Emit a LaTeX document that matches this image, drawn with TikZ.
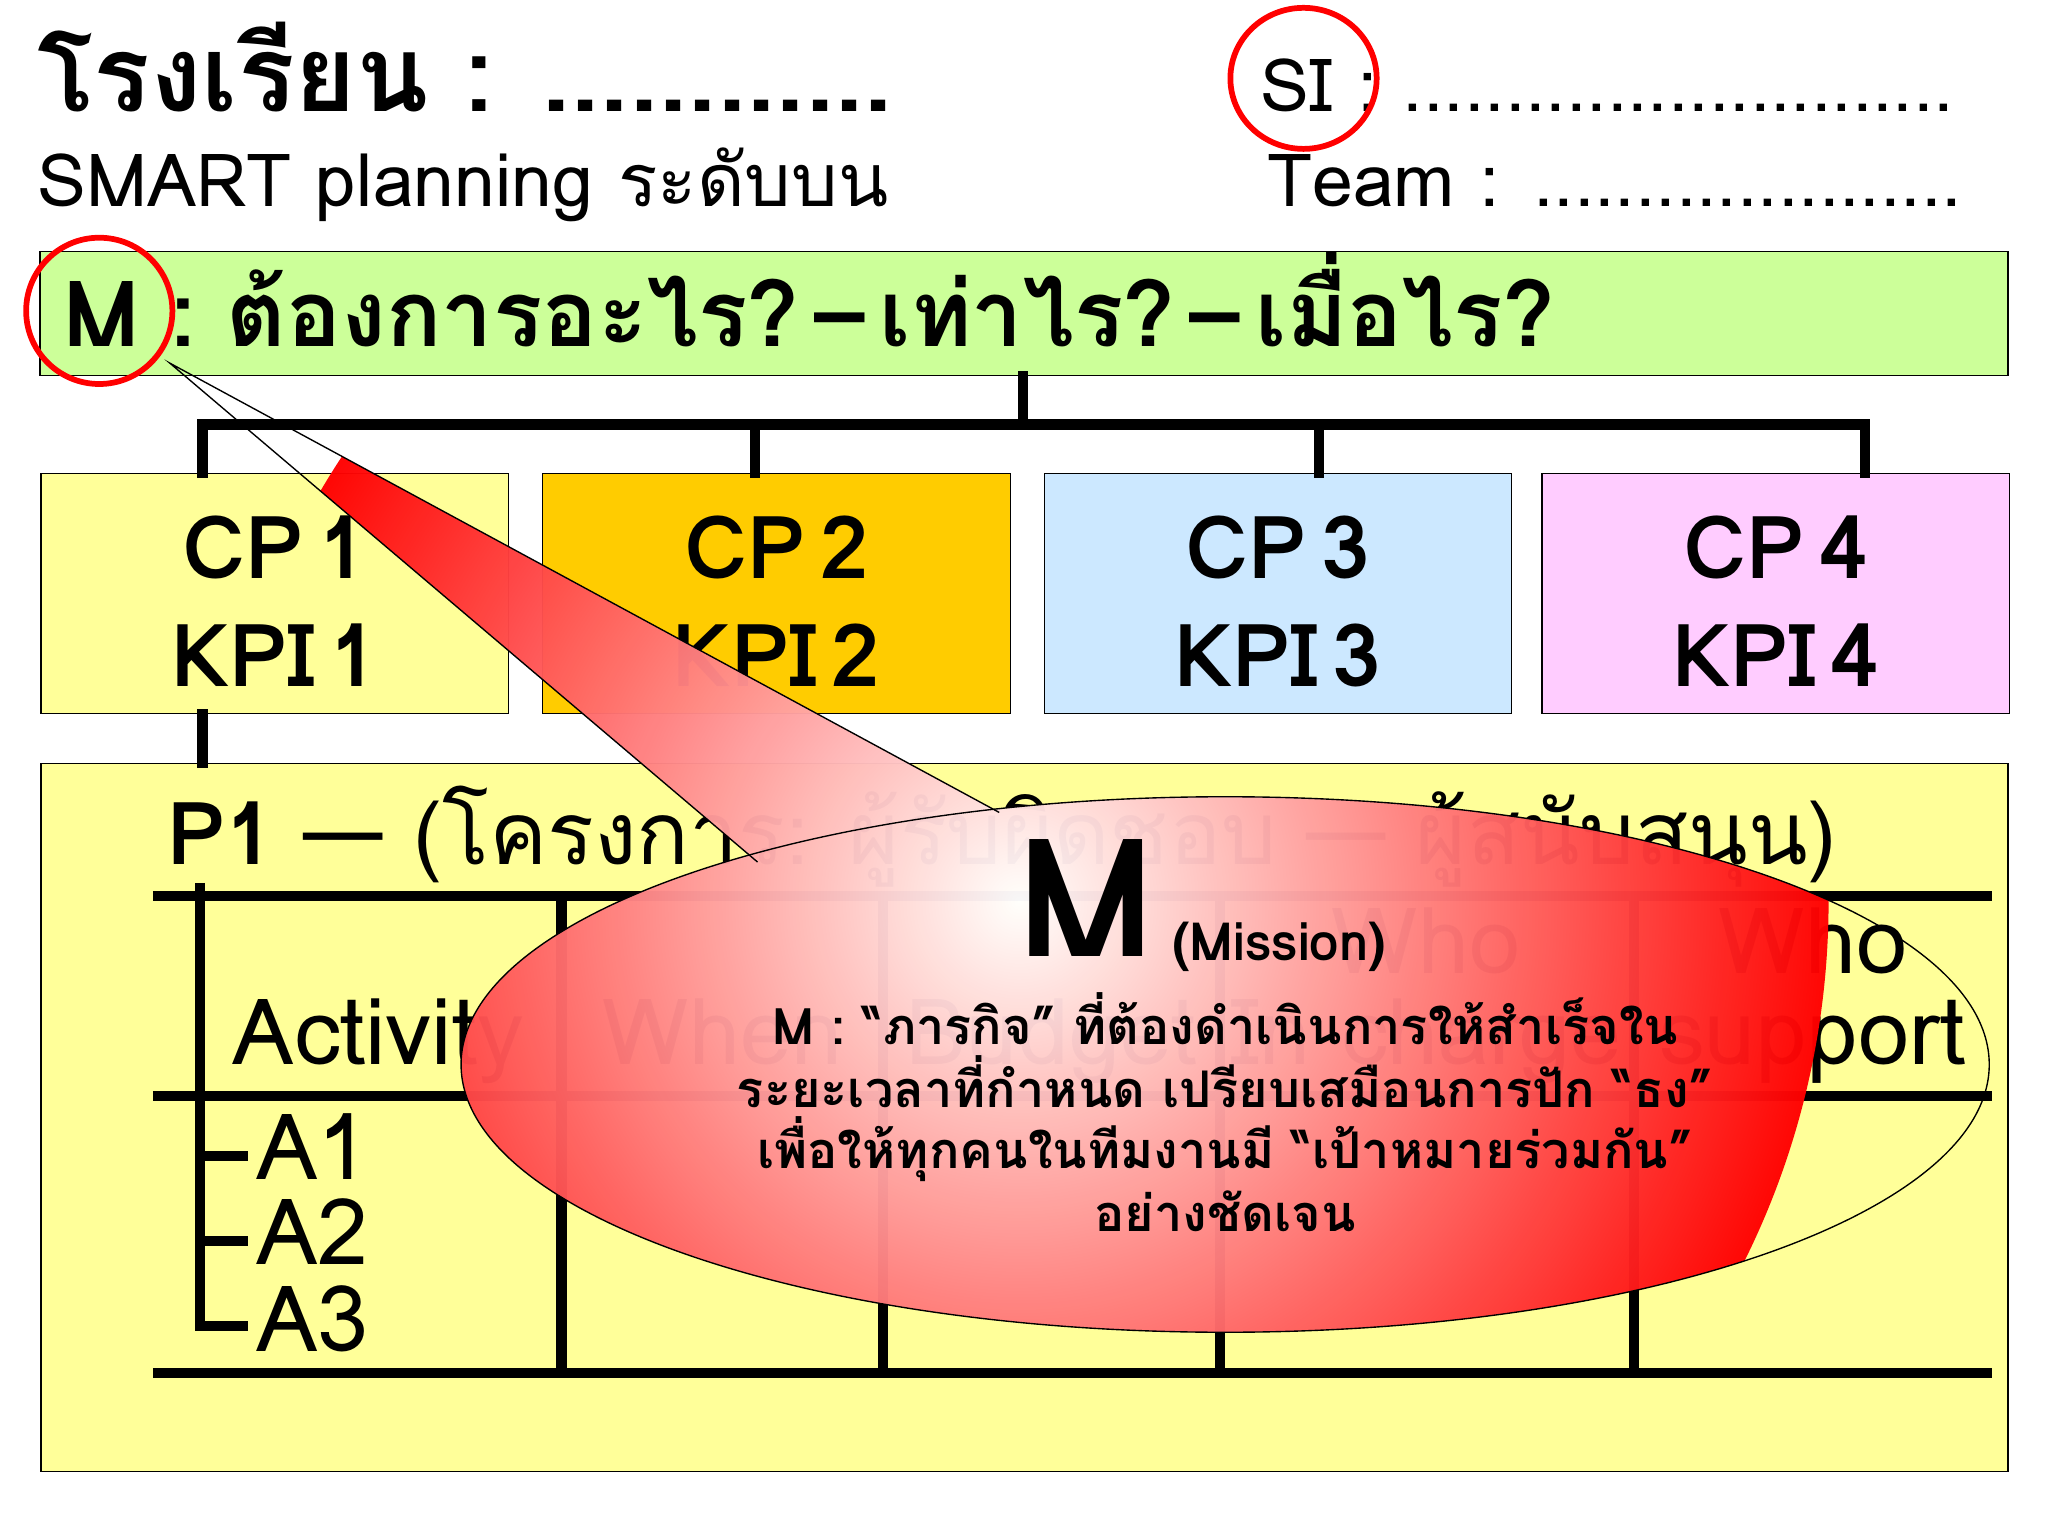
\documentclass[tikz,border=0pt]{standalone}
\usepackage{fontspec}
\setmainfont[Script=Thai]{Loma}
\usetikzlibrary{shadings}
\definecolor{lgreen}{HTML}{CCFF99}
\definecolor{lyel}{HTML}{FFFF99}
\definecolor{lorange}{HTML}{FFCC00}
\definecolor{lblue}{HTML}{CCE8FF}
\definecolor{lpink}{HTML}{FFCCFF}
\tikzset{
  box/.style={draw=black, line width=0.6pt},
  thick line/.style={line width=4.5pt, line cap=rect},
  tl/.style={anchor=base west, inner sep=0pt},
  cpt/.style={font=\fontsize{38}{40}\bfseries\selectfont, inner sep=0pt},
  hdr/.style={font=\fontsize{40}{42}\selectfont, inner sep=0pt, anchor=base},
  body/.style={font=\fontsize{22}{24}\bfseries\selectfont, inner sep=0pt, anchor=base},
}
\begin{document}
\begin{tikzpicture}[x=0.02cm,y=-0.02cm]
\useasboundingbox[fill=white] (0,0) rectangle (1568,1176);
% header texts
\node[tl, font=\fontsize{46}{48}\bfseries\selectfont] (title) at (28,85) {โรงเรียน : ............};
\node[tl, font=\fontsize{32}{34}\selectfont] (smart) at (28,158) {SMART planning ระดับบน};
\node[tl, font=\fontsize{32}{34}\selectfont] (si) at (965,85) {SI : ...........................};
\node[tl, font=\fontsize{32}{34}\selectfont] (team) at (970,158) {Team : .....................};
\draw[red, line width=2.5pt] (998,60) ellipse (56 and 54);
% mission bar
\node[box, fill=lgreen, minimum width=30.14cm, minimum height=1.9cm, inner sep=0pt, anchor=north west] (bar) at (30,192) {};
\node[tl, font=\fontsize{40}{42}\bfseries\selectfont] (bartext) at (48,265) {M : ต้องการอะไร?\,–\,เท่าไร?\,–\,เมื่อไร?};
\draw[red, line width=2.5pt] (76,238) circle (56);
% CP boxes
\foreach \n/\x/\c in {1/31/lyel,2/415/lorange,3/799/lblue,4/1180/lpink}{
  \node[box, fill=\c, minimum width=7.16cm, minimum height=3.68cm, anchor=north west, inner sep=0pt] (cp\n) at (\x,362) {};
  \node[cpt] (cpl\n) at ([yshift=-1.15cm]cp\n.north) {CP\,\n};
  \node[cpt] (kpi\n) at ([yshift=-2.8cm]cp\n.north) {KPI\,\n};
}
\coordinate (j) at (783,325);
\coordinate (d1) at (155,325);
\coordinate (d2) at (578,325);
\coordinate (d3) at (1010,325);
\coordinate (d4) at (1428,325);
\draw[thick line] (bar.south -| j) -- (j);
\draw[thick line] (d1) -- (d4);
\draw[thick line] (d1) -- (d1 |- cp1.north);
\draw[thick line] (d2) -- (d2 |- cp2.north);
\draw[thick line] (d3) -- (d3 |- cp3.north);
\draw[thick line] (d4) -- (d4 |- cp4.north);
% project box
\node[box, fill=lyel, minimum width=30.12cm, minimum height=10.84cm, anchor=north west, inner sep=0pt] (proj) at (31,584) {};
\draw[thick line] (cp1.south -| d1) -- (proj.north -| d1);
\node[tl, font=\fontsize{38}{40}\selectfont] (p1) at (128,662) {\textbf{P1} — (โครงการ: ผู้รับผิดชอบ — ผู้สนับสนุน)};
% table
\coordinate (t1a) at (117,686); \coordinate (t1b) at (1525,686);
\coordinate (t2a) at (117,839); \coordinate (t2b) at (1525,839);
\coordinate (t3a) at (117,1051); \coordinate (t3b) at (1525,1051);
\draw[thick line, line cap=butt] (t1a) -- (t1b);
\draw[thick line, line cap=butt] (t2a) -- (t2b);
\draw[thick line, line cap=butt] (t3a) -- (t3b);
\foreach \x in {430,676,934,1251}{ \draw[thick line, line cap=butt] (\x,686) -- (\x,1051); }
\draw[thick line, line cap=butt] (153,676) -- (153,1015) -- (190,1015);
\draw[thick line, line cap=butt] (153,885) -- (190,885);
\draw[thick line, line cap=butt] (153,950) -- (190,950);
\node[tl, font=\fontsize{40}{42}\selectfont] (act) at (178,815) {Activity};
\node[hdr] (when) at (553,815) {When};
\node[hdr] (budget) at (805,815) {Budget};
\node[hdr] (who1) at (1092,745) {Who};
\node[hdr] (who1b) at (1092,815) {In charge};
\node[hdr] (who2) at (1388,745) {Who};
\node[hdr] (who2b) at (1388,815) {support};
\node[tl, font=\fontsize{40}{42}\selectfont] (a1) at (196,903) {A1};
\node[tl, font=\fontsize{40}{42}\selectfont] (a2) at (196,968) {A2};
\node[tl, font=\fontsize{40}{42}\selectfont] (a3) at (196,1035) {A3};
% callout
\begin{scope}[transparency group, opacity=0.97]
\begin{scope}
\clip (130,278) -- (765,622) -- (580,660) -- cycle (938,815) ellipse (585 and 205);
\shade[inner color=white, outer color=red, shading=radial] (780,690) circle (620);
\end{scope}
\end{scope}
\draw[line width=0.6pt] (765,622) -- (130,278) -- (580,660);
\draw[line width=0.6pt] (938,815) ellipse (585 and 205);
\node[inner sep=0pt, anchor=base, font=\fontsize{72}{74}\bfseries\selectfont] (bigm) at (832,732) {M};
\node[tl, font=\fontsize{23}{25}\bfseries\selectfont] (mission) at (897,735) {(Mission)};
\node[body] (l1) at (938,800) {M : “ภารกิจ” ที่ต้องดำเนินการให้สำเร็จใน};
\node[body] (l2) at (938,848) {ระยะเวลาที่กำหนด เปรียบเสมือนการปัก “ธง”};
\node[body] (l3) at (938,895) {เพื่อให้ทุกคนในทีมงานมี “เป้าหมายร่วมกัน”};
\node[body] (l4) at (938,943) {อย่างชัดเจน};
\end{tikzpicture}
\end{document}
